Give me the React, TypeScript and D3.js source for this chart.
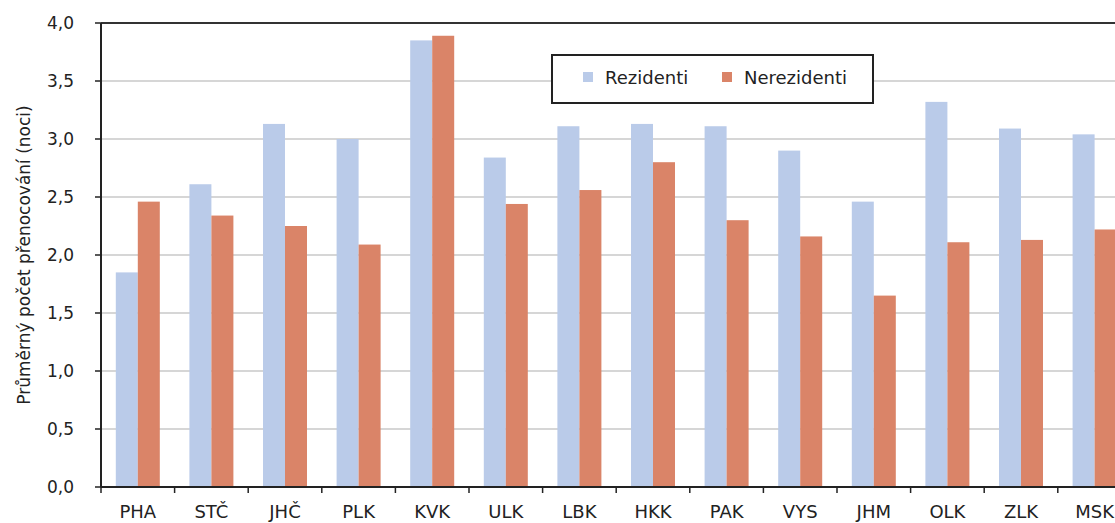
import React from "react";
import * as d3 from "d3";

const regions = ["PHA", "STČ", "JHČ", "PLK", "KVK", "ULK", "LBK", "HKK", "PAK", "VYS", "JHM", "OLK", "ZLK", "MSK"];
const rezidenti = [1.85, 2.61, 3.13, 3.0, 3.85, 2.84, 3.11, 3.13, 3.11, 2.9, 2.46, 3.32, 3.09, 3.04];
const nerezidenti = [2.46, 2.34, 2.25, 2.09, 3.89, 2.44, 2.56, 2.8, 2.3, 2.16, 1.65, 2.11, 2.13, 2.22];
const seriesNames = ["Rezidenti", "Nerezidenti"];
const yTicks = [0, 0.5, 1, 1.5, 2, 2.5, 3, 3.5, 4];

const colors = ["#bacbe9", "#da8468"];
const font = "'DejaVu Sans', Tahoma, sans-serif";
const W = 1115;
const H = 523;

export default function App() {
  // plot area runs past the right edge (cut off in the original too)
  const x = d3.scaleBand().domain(regions).range([101, 101 + 14 * 73.6]);
  const xs = d3.scaleBand().domain(seriesNames).range([0, 44]);
  const y = d3.scaleLinear().domain([0, 4]).range([487, 23]);
  const off = (x.bandwidth() - 44) / 2;
  const fmt = (v: number) => d3.format(".1f")(v).replace(".", ",");
  const series = [rezidenti, nerezidenti];

  return (
    <svg width={W} height={H} style={{ position: "absolute", left: 0, top: 0, background: "#fff" }}>
      {/* grid */}
      {yTicks.slice(1, -1).map((t) => (
        <line key={t} x1={101} x2={W} y1={y(t)} y2={y(t)} stroke="#c8c8c8" strokeWidth={1.5} />
      ))}
      <line x1={101} x2={W} y1={y(4)} y2={y(4)} stroke="#333" strokeWidth={2} />

      {/* bars */}
      {series.map((vals, si) =>
        regions.map((r, i) => (
          <rect
            key={r + si}
            x={(x(r) as number) + off + (xs(seriesNames[si]) as number)}
            y={y(vals[i])}
            width={xs.bandwidth()}
            height={y(0) - y(vals[i])}
            fill={colors[si]}
          />
        ))
      )}

      {/* y axis */}
      <line x1={101} x2={101} y1={y(4)} y2={y(0)} stroke="#222" strokeWidth={2} />
      {yTicks.map((t) => (
        <g key={t}>
          <line x1={95} x2={101} y1={y(t)} y2={y(t)} stroke="#222" strokeWidth={1.5} />
          <text x={74} y={y(t) + 6} textAnchor="end" fontFamily={font} fontSize={17} fill="#222">
            {fmt(t)}
          </text>
        </g>
      ))}
      <text
        transform={`translate(30,${(y(0) + y(4)) / 2}) rotate(-90)`}
        textAnchor="middle"
        fontFamily={font}
        fontSize={17}
        fill="#222"
      >
        Průměrný počet přenocování (noci)
      </text>

      {/* x axis */}
      <line x1={101} x2={W} y1={y(0)} y2={y(0)} stroke="#222" strokeWidth={2} />
      {regions.map((r) => (
        <g key={r}>
          <line x1={x(r)} x2={x(r)} y1={y(0)} y2={y(0) + 6} stroke="#222" strokeWidth={1.5} />
          <text
            x={(x(r) as number) + x.bandwidth() / 2}
            y={518}
            textAnchor="middle"
            fontFamily={font}
            fontSize={18}
            fill="#222"
          >
            {r}
          </text>
        </g>
      ))}

      {/* legend */}
      <rect x={552} y={55} width={321} height={48} fill="#fff" stroke="#222" strokeWidth={2} />
      {seriesNames.map((s, i) => (
        <g key={s} transform={`translate(${583 + i * 139},72)`}>
          <rect width={10} height={10} fill={colors[i]} />
          <text x={22} y={11.5} fontFamily={font} fontSize={18} fill="#222">
            {s}
          </text>
        </g>
      ))}
    </svg>
  );
}
